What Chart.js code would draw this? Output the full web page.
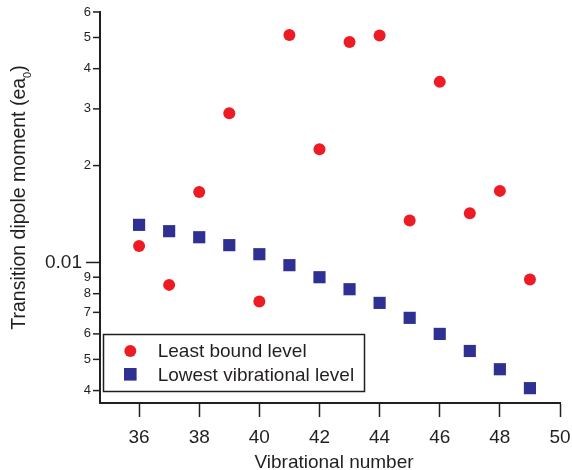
<!DOCTYPE html>
<html lang="en">
<head>
<meta charset="UTF-8">
<title>Transition dipole moment vs vibrational number</title>
<script src="https://cdn.jsdelivr.net/npm/chart.js"></script>
<style>
  body { margin: 0; background: #fff; }
  canvas { display: block; }
</style>
</head>
<body>
<canvas id="dipoleChart" width="572" height="470"></canvas>
<script>
// vibrational numbers on the x axis
const vibNumbers = [36, 37, 38, 39, 40, 41, 42, 43, 44, 45, 46, 47, 48, 49];
// transition dipole moments (ea0)
const leastBound = [0.01126, 0.00852, 0.01657, 0.02909, 0.00756, 0.0509, 0.02248,
                    0.0484, 0.0507, 0.01350, 0.0364, 0.01422, 0.01669, 0.00886];
const lowestVib = [0.01309, 0.01251, 0.01198, 0.01132, 0.01061, 0.00981, 0.00900,
                   0.00826, 0.00749, 0.00673, 0.00600, 0.00531, 0.00466, 0.00407];

const xTicks = [36, 38, 40, 42, 44, 46, 48, 50];
const yTicks = [0.004, 0.005, 0.006, 0.007, 0.008, 0.009, 0.01, 0.02, 0.03, 0.04, 0.05, 0.06];
const yTickLabels = ['4', '5', '6', '7', '8', '9', '0.01', '2', '3', '4', '5', '6'];

const INK = '#231f20';
const FONT = '"Liberation Sans", Arial, Helvetica, sans-serif';

function toPoints(ys) {
    return vibNumbers.map((x, i) => ({ x: x, y: ys[i] }));
}

// y tick marks + labels, axis titles (y has a subscript), boxed legend
const decorPlugin = {
    id: 'decor',
    afterDraw(chart) {
        const ctx = chart.ctx;
        const y = chart.scales.y;
        const x = chart.scales.x;
        ctx.save();
        ctx.strokeStyle = INK;
        ctx.fillStyle = INK;
        ctx.lineWidth = 1.5;
        ctx.textAlign = 'right';
        ctx.textBaseline = 'middle';
        yTicks.forEach((v, i) => {
            const py = y.getPixelForValue(v);
            const big = yTickLabels[i] === '0.01';
            const len = big ? 14 : 7;
            ctx.beginPath();
            ctx.moveTo(y.right - len, py);
            ctx.lineTo(y.right, py);
            ctx.stroke();
            ctx.font = (big ? 19 : 13) + 'px ' + FONT;
            ctx.fillText(yTickLabels[i], y.right - len - (big ? 4 : 2), py);
        });

        // x title
        ctx.textAlign = 'center';
        ctx.textBaseline = 'alphabetic';
        ctx.font = '19px ' + FONT;
        ctx.fillText('Vibrational number', (x.left + x.right) / 2 + 4, 467.5);

        // rotated y title: Transition dipole moment (ea0)
        const main = 'Transition dipole moment (ea';
        ctx.textAlign = 'left';
        ctx.font = '19.5px ' + FONT;
        const w1 = ctx.measureText(main).width;
        const w3 = ctx.measureText(')').width;
        ctx.font = '11px ' + FONT;
        const w2 = ctx.measureText('0').width;
        const total = w1 + w2 + w3;
        ctx.translate(25, 197.5);
        ctx.rotate(-Math.PI / 2);
        let cx = -total / 2;
        ctx.font = '19.5px ' + FONT;
        ctx.fillText(main, cx, 0);
        cx += w1;
        ctx.font = '11px ' + FONT;
        ctx.fillText('0', cx, 6);
        cx += w2;
        ctx.font = '19.5px ' + FONT;
        ctx.fillText(')', cx, 0);
        ctx.restore();

        // legend box
        ctx.save();
        ctx.fillStyle = '#fff';
        ctx.fillRect(103.5, 334.5, 261, 57);
        ctx.strokeStyle = INK;
        ctx.lineWidth = 1.5;
        ctx.strokeRect(103.5, 334.5, 261, 57);
        ctx.font = '19px ' + FONT;
        ctx.textAlign = 'left';
        ctx.textBaseline = 'middle';
        chart.data.datasets.forEach((ds, i) => {
            const ly = 351 + i * 23.3;
            ctx.fillStyle = ds.backgroundColor;
            if (ds.pointStyle === 'rect') {
                ctx.fillRect(130.3 - 6.3, ly - 6.3, 12.6, 12.6);
            } else {
                ctx.beginPath();
                ctx.arc(130.3, ly, 6, 0, Math.PI * 2);
                ctx.fill();
            }
            ctx.fillStyle = INK;
            ctx.fillText(ds.label, 157.7, ly + 1);
        });
        ctx.restore();
    }
};

const ctx = document.getElementById('dipoleChart').getContext('2d');
const chart = new Chart(ctx, {
    type: 'scatter',
    data: {
        datasets: [{
            label: 'Least bound level',
            data: toPoints(leastBound),
            pointStyle: 'circle',
            pointRadius: 6,
            backgroundColor: '#ed1c24',
            borderWidth: 0
        }, {
            label: 'Lowest vibrational level',
            data: toPoints(lowestVib),
            pointStyle: 'rect',
            pointRadius: 8.6,
            backgroundColor: '#2e3192',
            borderWidth: 0
        }]
    },
    options: {
        responsive: false,
        animation: false,
        layout: { padding: { top: 12, right: 12, left: 0, bottom: 0 } },
        plugins: {
            legend: { display: false },
            tooltip: { enabled: false }
        },
        scales: {
            x: {
                type: 'linear',
                min: 34.7,
                max: 50,
                afterBuildTicks: s => { s.ticks = xTicks.map(v => ({ value: v })); },
                afterFit: s => {
                    s.height = 67;
                    s.paddingLeft = 0;
                    s.paddingRight = 0;
                },
                grid: {
                    display: true,
                    drawOnChartArea: false,
                    tickLength: 14,
                    tickWidth: 1.5,
                    tickColor: INK
                },
                border: { display: true, color: INK, width: 2 },
                ticks: {
                    color: INK,
                    font: { family: FONT, size: 19 },
                    padding: 9,
                    maxRotation: 0,
                    autoSkip: false
                }
            },
            y: {
                type: 'logarithmic',
                min: 0.00366,
                max: 0.06,
                afterBuildTicks: s => { s.ticks = yTicks.map(v => ({ value: v })); },
                afterFit: s => { s.width = 100; },
                grid: { display: false },
                border: { display: true, color: INK, width: 2 },
                ticks: { display: false }
            }
        }
    },
    plugins: [decorPlugin]
});
</script>
</body>
</html>
